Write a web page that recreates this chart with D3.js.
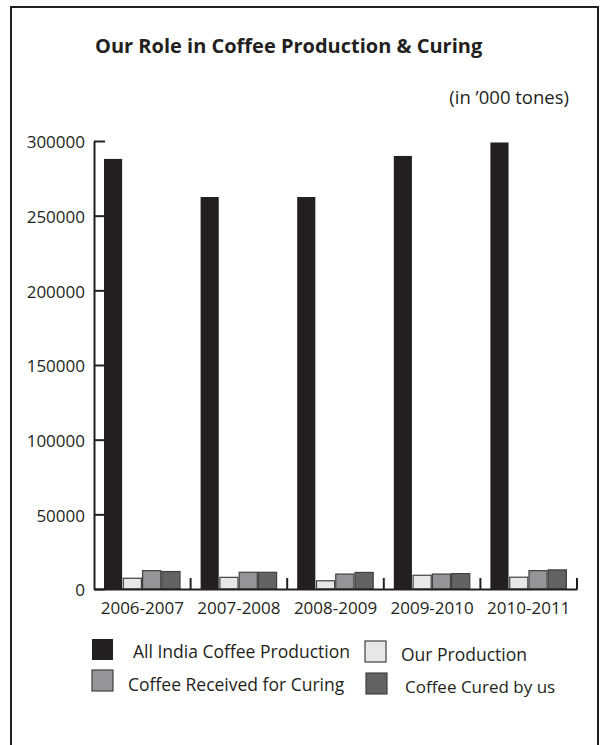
<!DOCTYPE html>
<html>
<head>
<meta charset="utf-8">
<script src="https://cdn.jsdelivr.net/npm/d3@7"></script>
<style>
  html, body { margin: 0; padding: 0; background: #fff; }
  svg { display: block; font-family: "Open Sans", "Noto Sans", sans-serif; }
</style>
</head>
<body>
<svg id="chart" width="609" height="745"></svg>
<script>
// ---- data ----
const categories = ["2006-2007", "2007-2008", "2008-2009", "2009-2010", "2010-2011"];
const seriesNames = ["All India Coffee Production", "Our Production", "Coffee Received for Curing", "Coffee Cured by us"];
const allIndiaProduction = [288000, 262500, 262500, 290000, 299000];
const ourProduction      = [7200, 7800, 5500, 9200, 7900];
const receivedForCuring  = [12300, 11200, 10000, 10000, 12300];
const curedByUs          = [11700, 11200, 11100, 10300, 12800];
const yTicks = [0, 50000, 100000, 150000, 200000, 250000, 300000];
const titleText = "Our Role in Coffee Production & Curing";
const unitText = "(in \u2019000 tones)";

const seriesValues = [allIndiaProduction, ourProduction, receivedForCuring, curedByUs];
const colors = ["#231f20", "#e6e7e8", "#939598", "#626365"];

const table = categories.map((c, i) => ({
  category: c,
  values: seriesNames.map((s, k) => ({ key: s, value: seriesValues[k][i], color: colors[k] }))
}));

// ---- layout ----
const svg = d3.select("#chart");
const axisColor = "#231f20";

svg.append("rect")
  .attr("x", 11).attr("y", 7)
  .attr("width", 587).attr("height", 800)
  .attr("fill", "none").attr("stroke", axisColor).attr("stroke-width", 2);

svg.append("text")
  .attr("x", 95).attr("y", 53)
  .attr("font-size", 20).attr("font-weight", "bold")
  .attr("fill", axisColor)
  .text(titleText);

svg.append("text")
  .attr("x", 569).attr("y", 104)
  .attr("text-anchor", "end")
  .attr("font-size", 18.5)
  .attr("fill", axisColor)
  .text(unitText);

const x0 = d3.scaleBand().domain(categories).range([94, 577]).paddingInner(0).paddingOuter(0);
const x1 = d3.scaleBand().domain(seriesNames).range([10, 86]).paddingInner(0.06);
const y = d3.scaleLinear().domain([0, 300000]).range([589, 141]);

// bars
const groups = svg.append("g").selectAll("g")
  .data(table).join("g")
  .attr("transform", d => `translate(${x0(d.category)},0)`);

groups.selectAll("rect")
  .data(d => d.values).join("rect")
  .attr("x", d => x1(d.key))
  .attr("y", d => y(d.value))
  .attr("width", x1.bandwidth())
  .attr("height", d => y(0) - y(d.value))
  .attr("fill", d => d.color)
  .attr("stroke", d => d.color === colors[0] ? "none" : "#414042")
  .attr("stroke-width", 1.2);

// y axis
const yAxis = d3.axisLeft(y)
  .tickValues(yTicks)
  .tickFormat(d3.format("d"))
  .tickSize(-11)
  .tickSizeOuter(0)
  .tickPadding(9);

const gy = svg.append("g").attr("transform", "translate(94,0)").call(yAxis);
gy.select(".domain").attr("stroke", axisColor).attr("stroke-width", 2);
gy.selectAll(".tick line").attr("stroke", axisColor).attr("stroke-width", 2);
gy.selectAll(".tick text").attr("font-size", 17).attr("fill", axisColor)
  .attr("dy", "0.4em")
  .attr("font-family", "'Open Sans', sans-serif");

// x axis
const xAxis = d3.axisBottom(x0).tickSize(0).tickSizeOuter(0).tickPadding(13);
const gx = svg.append("g").attr("transform", "translate(0,589)").call(xAxis);
gx.select(".domain").attr("stroke", axisColor).attr("stroke-width", 2);
gx.selectAll(".tick text").attr("font-size", 17).attr("fill", axisColor)
  .attr("font-family", "'Open Sans', sans-serif");

// boundary tick marks (pointing up)
svg.append("g").selectAll("line")
  .data(categories).join("line")
  .attr("x1", d => x0(d) + x0.bandwidth())
  .attr("x2", d => x0(d) + x0.bandwidth())
  .attr("y1", y(0)).attr("y2", y(0) - 11)
  .attr("stroke", axisColor).attr("stroke-width", 2);

// legend
const legendPos = [
  { sx: 92, sy: 639, tx: 133, ty: 658 },
  { sx: 365, sy: 641, tx: 401, ty: 661 },
  { sx: 92, sy: 670, tx: 128, ty: 691 },
  { sx: 366, sy: 673, tx: 405, ty: 693 }
];
const legend = svg.append("g").selectAll("g")
  .data(seriesNames).join("g");
legend.append("rect")
  .attr("x", (d, i) => legendPos[i].sx)
  .attr("y", (d, i) => legendPos[i].sy)
  .attr("width", 21).attr("height", 21)
  .attr("fill", (d, i) => colors[i])
  .attr("stroke", (d, i) => i === 0 ? "none" : "#414042")
  .attr("stroke-width", 1.2);
legend.append("text")
  .attr("x", (d, i) => legendPos[i].tx)
  .attr("y", (d, i) => legendPos[i].ty)
  .attr("font-size", (d, i) => i === 3 ? 17 : 17.5)
  .attr("fill", axisColor)
  .text(d => d);
</script>
</body>
</html>
